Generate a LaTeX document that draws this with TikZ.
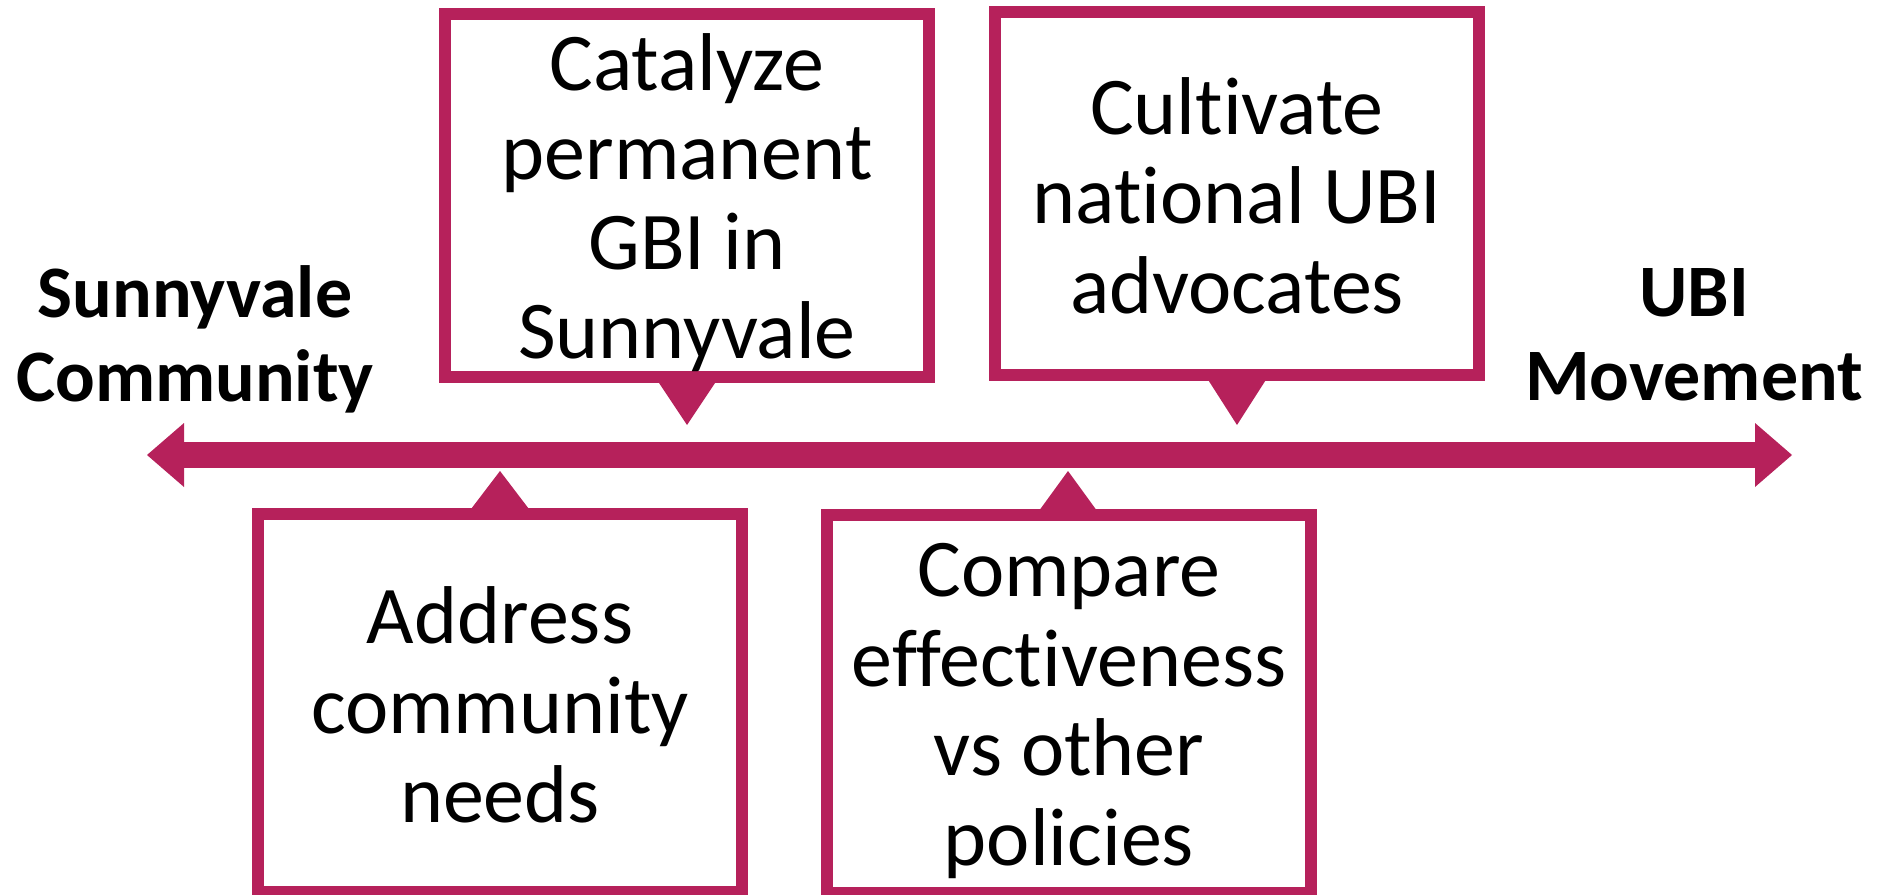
\documentclass[tikz,border=0pt]{standalone}
\usepackage{fontspec}
\setmainfont{Carlito}[Ligatures=NoCommon]
\usetikzlibrary{arrows.meta,calc}
\definecolor{ubired}{RGB}{182,33,91}
\tikzset{goalbox/.style={draw=ubired,fill=white,line width=6pt,minimum width=242pt}}
\tikzset{goaltext/.style={align=center,inner sep=0pt,font=\fontsize{41}{44.75}\selectfont}}
\tikzset{endlabel/.style={align=center,inner sep=0pt,font=\bfseries\fontsize{37}{42}\selectfont}}
\tikzset{pointer/.style={fill=ubired}}

\begin{document}
\begin{tikzpicture}
[x=0.5pt,y=-0.5pt]
\useasboundingbox (0,0) rectangle (1879,894);
\clip (0,0) rectangle (1879,894);

% the axis
\coordinate (lft) at (147,455);
\coordinate (rgt) at (1792,455);
\draw[ubired,line width=13pt,{Triangle[length=18.5pt,width=32pt,line width=0pt]}-{Triangle[length=18.5pt,width=32pt,line width=0pt]}] (lft) -- (rgt);

\node (sunny) at (195,339)[endlabel]{Sunnyvale\\Community};
\node (ubi) at (1694,335)[endlabel]{UBI\\Movement};

% goals above the axis
\coordinate (catalyzetip) at (687,425);
\coordinate (cultivatetip) at (1237,425);
\fill[pointer] ($(catalyzetip)+(-32,-48)$) -- (catalyzetip) -- ($(catalyzetip)+(32,-48)$) -- cycle;
\fill[pointer] ($(cultivatetip)+(-32,-50)$) -- (cultivatetip) -- ($(cultivatetip)+(32,-50)$) -- cycle;
\node (catalyze) at (687,195.5)[goalbox,minimum height=181.5pt]{};
\node (catalyzetext) at ($(catalyze)+(0,7)$)[goaltext]{Catalyze\\permanent\\GBI in\\Sunnyvale};
\node (cultivate) at (1237,193.5)[goalbox,minimum height=181.5pt]{};
\node (cultivatetext) at ($(cultivate)+(0,2)$)[goaltext]{Cultivate\\national UBI\\advocates};

% goals below the axis
\coordinate (addresstip) at (500,471);
\coordinate (comparetip) at (1068,471);
\fill[pointer] ($(addresstip)+(-32,42)$) -- (addresstip) -- ($(addresstip)+(32,42)$) -- cycle;
\fill[pointer] ($(comparetip)+(-32,44)$) -- (comparetip) -- ($(comparetip)+(32,44)$) -- cycle;
\node (address) at (500,703)[goalbox,minimum height=189pt]{};
\node (addresstext) at ($(address)+(0,2)$)[goaltext]{Address\\community\\needs};
\node (compare) at (1069,704)[goalbox,minimum height=189pt]{};
\node (comparetext) at ($(compare)+(0,7)$)[goaltext]{Compare\\effectiveness\\vs other\\policies};
\end{tikzpicture}
\end{document}
